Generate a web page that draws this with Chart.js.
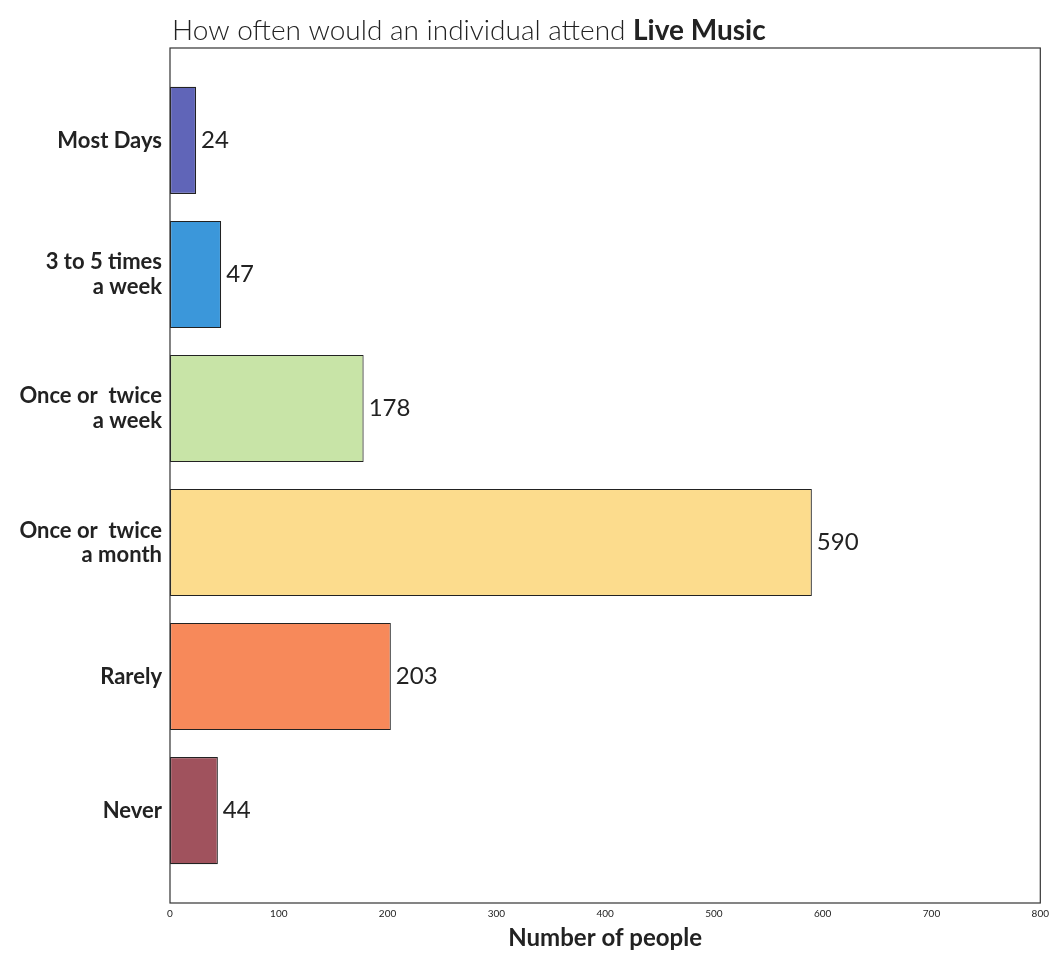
<!DOCTYPE html>
<html><head><meta charset="utf-8">
<script src="https://cdn.jsdelivr.net/npm/chart.js@4/dist/chart.umd.min.js"></script>
<style>html,body{margin:0;padding:0;background:#fff}#wrap{width:1051px;height:954px}</style>
</head><body><div id="wrap"><canvas id="c" width="1051" height="954"></canvas></div>
<script>
const categories = [["Most Days"], ["3 to 5 times", "a week"], ["Once or  twice", "a week"], ["Once or  twice", "a month"], ["Rarely"], ["Never"]];
const values = [24, 47, 178, 590, 203, 44];
const colors = ["#6065b8", "#3b97da", "#c8e4a7", "#fcdc8d", "#f7895a", "#a0525d"];
const xTicks = [0, 100, 200, 300, 400, 500, 600, 700, 800];
const titleRegular = "How often would an individual attend ";
const titleBold = "Live Music";
const xTitle = "Number of people";

const FONT = "Lato, 'Open Sans', sans-serif";

const framePlugin = {
  id: 'frame',
  afterDatasetsDraw(chart) {
    const {ctx, chartArea: a} = chart;
    ctx.save();
    ctx.strokeStyle = '#333';
    ctx.lineWidth = 1.2;
    ctx.strokeRect(a.left, a.top, a.right - a.left, a.bottom - a.top);
    const meta = chart.getDatasetMeta(0);
    ctx.fillStyle = '#222';
    ctx.font = '24px ' + FONT;
    ctx.textBaseline = 'middle';
    ctx.textAlign = 'left';
    meta.data.forEach((bar, i) => {
      ctx.fillText(String(values[i]), bar.x + 5, bar.y);
    });
    ctx.textBaseline = 'alphabetic';
    ctx.font = '300 28px ' + FONT;
    const w = ctx.measureText(titleRegular).width;
    ctx.fillStyle = '#222';
    ctx.fillText(titleRegular, a.left + 2, 40);
    ctx.font = 'bold 28px ' + FONT;
    ctx.fillText(titleBold, a.left + 2 + w, 40);
    ctx.restore();
  }
};

new Chart(document.getElementById('c'), {
  type: 'bar',
  data: {
    datasets: [{
      data: values.map((v, i) => ({x: v, y: i})),
      backgroundColor: colors,
      borderColor: '#222',
      borderWidth: 1.2,
      borderSkipped: false,
      barPercentage: 1.0,
      categoryPercentage: 0.8
    }]
  },
  options: {
    indexAxis: 'y',
    responsive: false,
    animation: false,
    layout: {padding: {top: 48, right: 10, left: 0, bottom: 0}},
    plugins: {legend: {display: false}, tooltip: {enabled: false}},
    scales: {
      x: {
        type: 'linear', min: 0, max: 800,
        afterBuildTicks: s => { s.ticks = xTicks.map(v => ({value: v})); },
        afterFit: s => { s.height = 51; },
        grid: {display: false, drawTicks: true, tickLength: 3},
        border: {display: false},
        ticks: {color: '#222', font: {size: 10, family: FONT}, padding: 2, maxRotation: 0},
        title: {display: true, text: xTitle, color: '#222', font: {size: 24, weight: 'bold', family: FONT}, padding: {top: 2, bottom: 1}}
      },
      y: {
        type: 'linear', min: -0.69, max: 5.69, reverse: true, offset: false,
        afterBuildTicks: s => { s.ticks = categories.map((_, i) => ({value: i})); },
        afterFit: s => { s.width = 170; },
        grid: {display: false, drawTicks: true, tickLength: 3},
        border: {display: false},
        ticks: {
          color: '#222', padding: 5,
          font: {size: 22, weight: 'bold', family: FONT, lineHeight: 1.1},
          callback: (v) => categories[v] || ''
        }
      }
    }
  },
  plugins: [framePlugin]
});
</script></body></html>
